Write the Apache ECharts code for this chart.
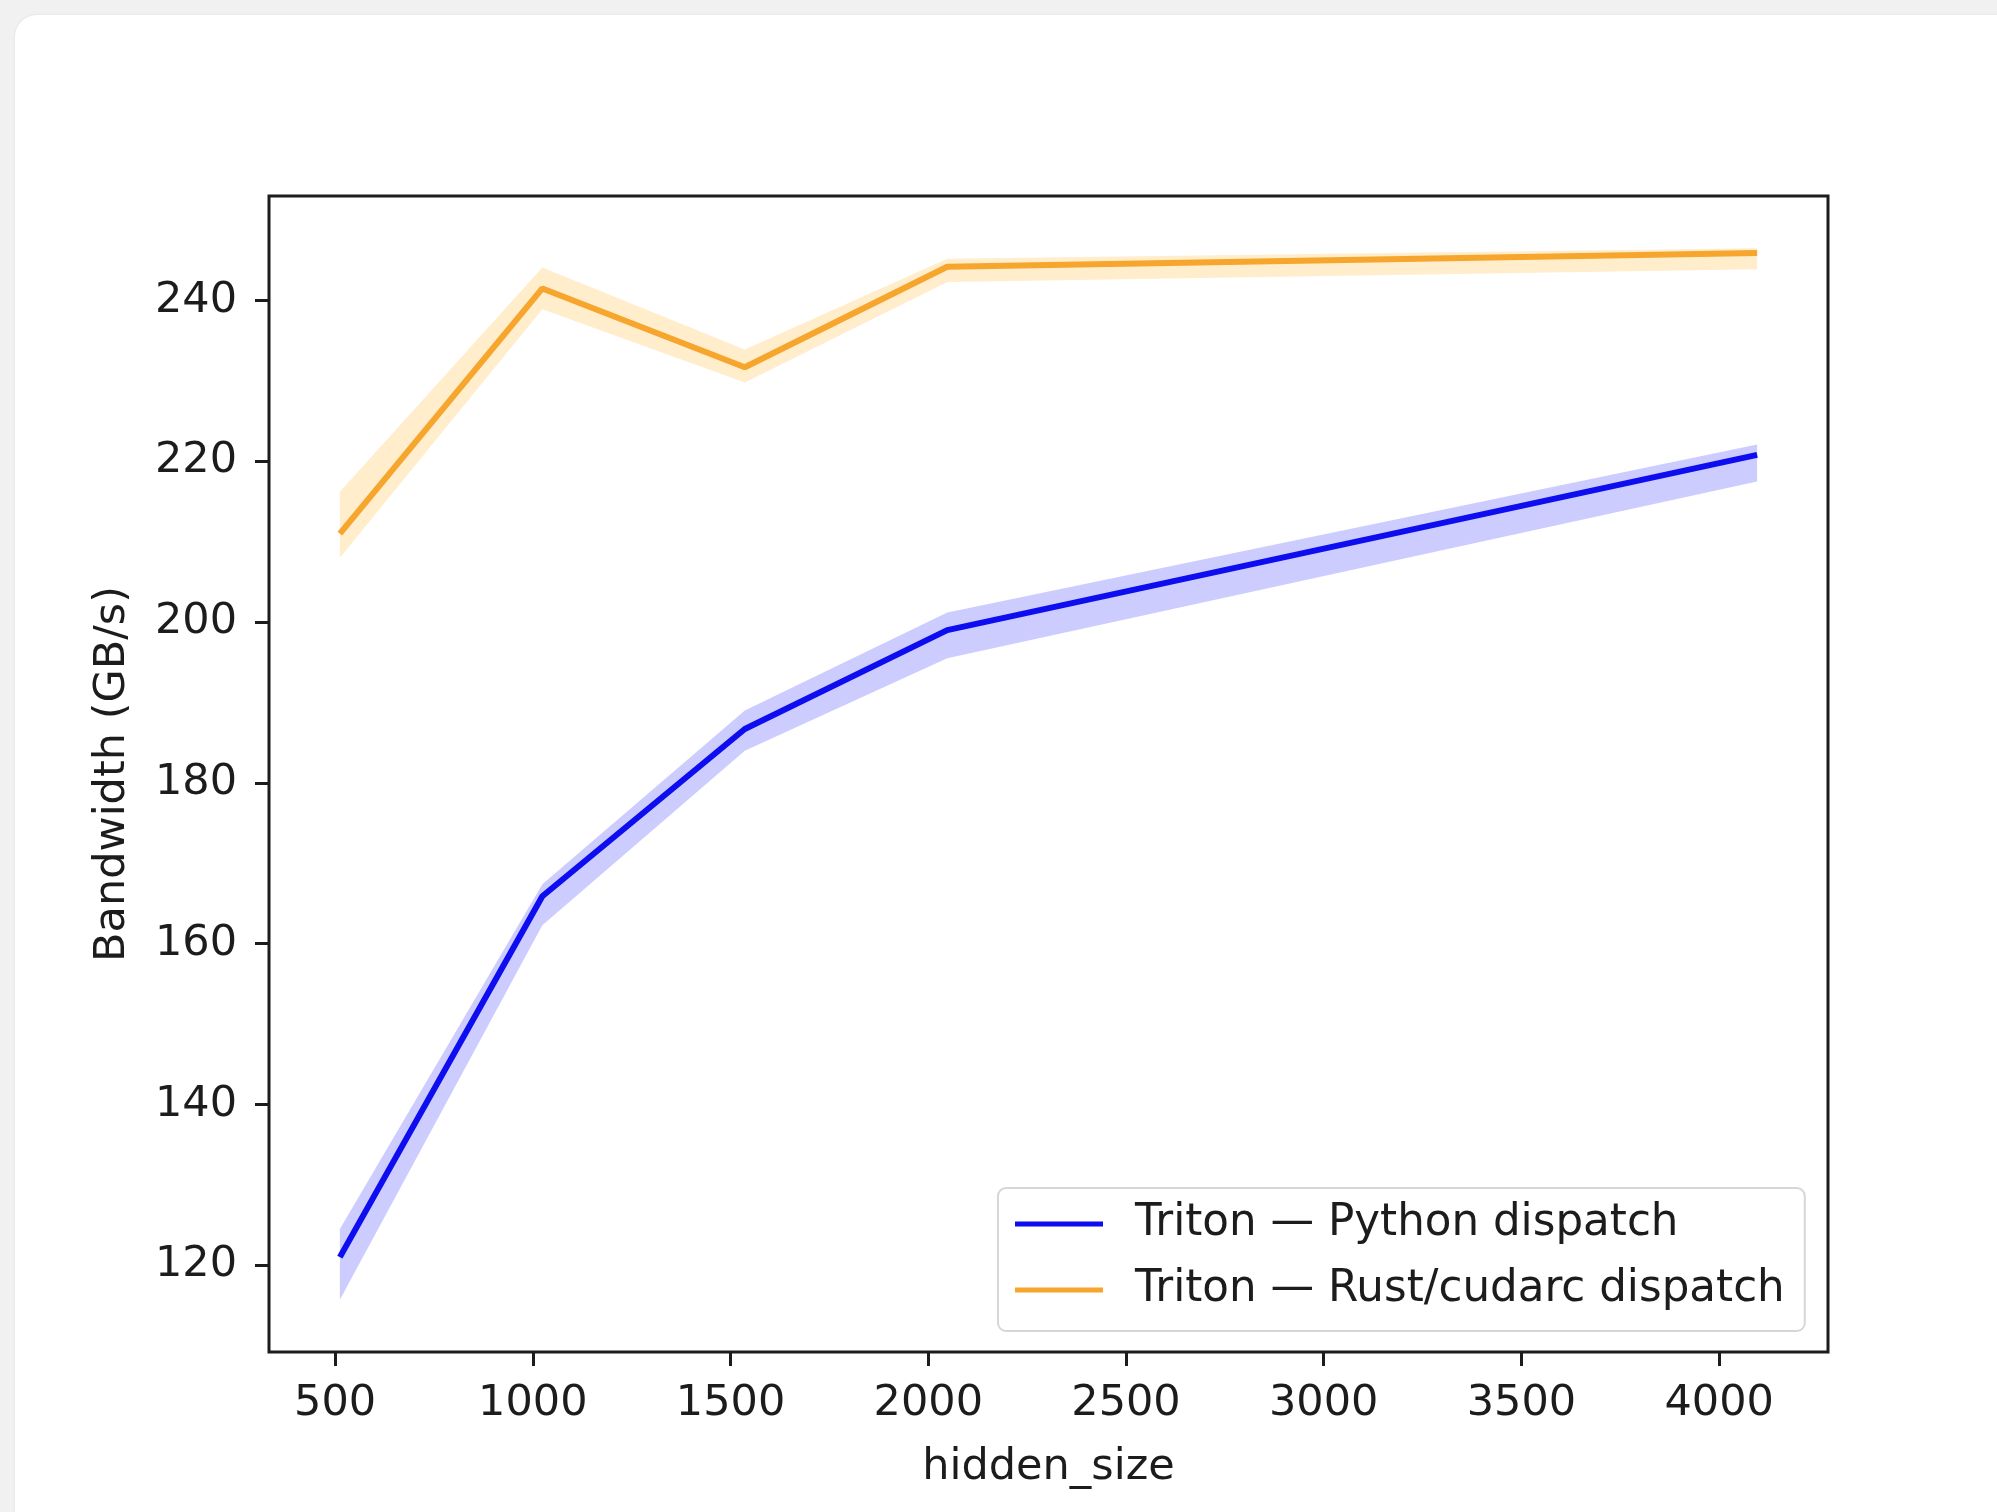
<!DOCTYPE html>
<html>
<head>
<meta charset="utf-8">
<script src="https://cdn.jsdelivr.net/npm/echarts@6/dist/echarts.min.js"></script>
<style>
  html, body { margin: 0; padding: 0; background: #f1f1f1; overflow: hidden; }
  #card { position: absolute; left: 15px; top: 15px; width: 2100px; height: 1600px;
          background: #ffffff; border-radius: 22px; box-shadow: 0 0 3px rgba(0,0,0,0.08); }
  #chart { position: absolute; left: 0; top: 0; width: 1997px; height: 1512px; }
</style>
</head>
<body>
<div id="card"></div>
<div id="chart"></div>
<script>
// ---- data ----
const hiddenSize = [512, 1024, 1536, 2048, 4096];

const pythonMean = [121.0, 165.9, 186.7, 199.0, 220.8];
const pythonLow  = [115.7, 162.3, 184.0, 195.5, 217.5];
const pythonHigh = [124.5, 167.4, 189.0, 201.2, 222.1];

const rustMean = [211.0, 241.5, 231.7, 244.2, 245.9];
const rustLow  = [208.0, 238.9, 229.8, 242.3, 243.9];
const rustHigh = [216.2, 244.1, 233.9, 245.2, 246.5];

const xTicks = [500, 1000, 1500, 2000, 2500, 3000, 3500, 4000];
const yTicks = [120, 140, 160, 180, 200, 220, 240];

const seriesNames = ['Triton — Python dispatch', 'Triton — Rust/cudarc dispatch'];
const xLabel = 'hidden_size';
const yLabel = 'Bandwidth (GB/s)';

// ---- styles ----
const FONT = 'DejaVu Sans';
const FS = 43;
const BLUE = '#0d0df0';
const ORANGE = '#f6a52d';
const BLUE_BAND = 'rgba(0,0,255,0.2)';
const ORANGE_BAND = 'rgba(255,165,0,0.2)';
const INK = '#1c1c1c';

function bandSeries(low, high, fill) {
  return {
    type: 'custom',
    silent: true,
    z: 1,
    data: hiddenSize.map((x, i) => [x, low[i], high[i]]),
    encode: { x: 0, y: [1, 2] },
    renderItem: function (params, api) {
      if (params.dataIndex !== 0) return null;
      const upper = hiddenSize.map((x, i) => api.coord([x, high[i]]));
      const lower = hiddenSize.map((x, i) => api.coord([x, low[i]])).reverse();
      return {
        type: 'polygon',
        shape: { points: upper.concat(lower) },
        style: { fill: fill, stroke: null }
      };
    }
  };
}

function lineSeries(name, mean, color) {
  return {
    name: name,
    type: 'line',
    z: 3,
    data: hiddenSize.map((x, i) => [x, mean[i]]),
    symbol: 'none',
    showSymbol: false,
    lineStyle: { color: color, width: 6 },
    itemStyle: { color: color }
  };
}

const chart = echarts.init(document.getElementById('chart'), null, { renderer: 'canvas' });
chart.setOption({
  animation: false,
  backgroundColor: 'transparent',
  textStyle: { fontFamily: FONT },
  grid: {
    left: 269, right: 169, top: 196, bottom: 160,
    show: true, borderColor: INK, borderWidth: 3, backgroundColor: 'transparent'
  },
  xAxis: {
    type: 'value',
    min: 332.8, max: 4275.2,
    name: xLabel,
    nameLocation: 'middle',
    nameGap: 94,
    nameTextStyle: { fontFamily: FONT, fontSize: FS, color: INK },
    axisLine: { show: false },
    splitLine: { show: false },
    axisTick: { show: true, inside: false, length: 14, customValues: xTicks,
                lineStyle: { color: INK, width: 3 } },
    axisLabel: { customValues: xTicks, margin: 30, fontFamily: FONT, fontSize: FS, color: INK,
                 formatter: function (v) { return String(v); } }
  },
  yAxis: {
    type: 'value',
    min: 109.2, max: 253.0,
    name: yLabel,
    nameLocation: 'middle',
    nameGap: 135,
    nameTextStyle: { fontFamily: FONT, fontSize: FS, color: INK },
    axisLine: { show: false },
    splitLine: { show: false },
    axisTick: { show: true, inside: false, length: 14, customValues: yTicks,
                lineStyle: { color: INK, width: 3 } },
    axisLabel: { customValues: yTicks, margin: 32, fontFamily: FONT, fontSize: FS, color: INK,
                 formatter: function (v) { return String(v); } }
  },
  legend: {
    data: seriesNames,
    orient: 'vertical',
    left: 998, top: 1188,
    padding: [13, 20, 18, 17],
    itemWidth: 88, itemHeight: 5,
    itemGap: 20,
    icon: 'rect',
    backgroundColor: 'rgba(255,255,255,0.85)',
    borderColor: '#d6d6d6', borderWidth: 2, borderRadius: 8,
    textStyle: { fontFamily: FONT, fontSize: 43.6, color: INK, lineHeight: 46, padding: [0, 0, 0, 27] }
  },
  series: [
    bandSeries(pythonLow, pythonHigh, BLUE_BAND),
    bandSeries(rustLow, rustHigh, ORANGE_BAND),
    lineSeries(seriesNames[0], pythonMean, BLUE),
    lineSeries(seriesNames[1], rustMean, ORANGE)
  ]
});
</script>
</body>
</html>
